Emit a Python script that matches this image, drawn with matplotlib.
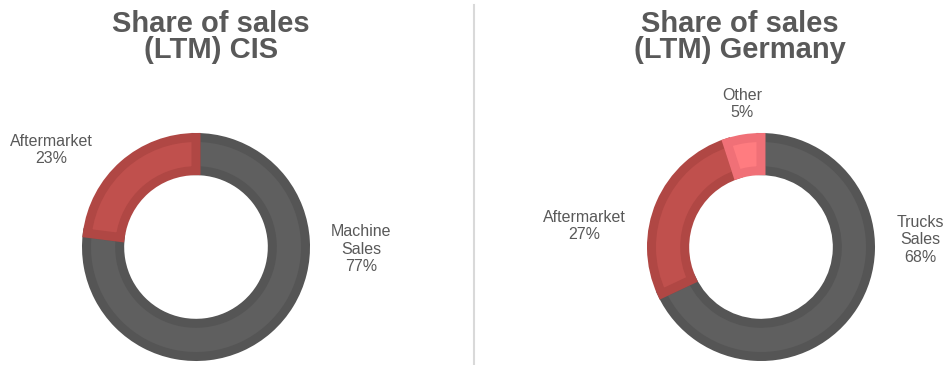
import matplotlib.pyplot as plt
from matplotlib.lines import Line2D

plt.rcParams['font.family'] = ['Liberation Sans', 'DejaVu Sans']

# data
cis_labels = ["Machine\nSales", "Aftermarket"]
cis_values = [77, 23]
ger_labels = ["Trucks\nSales", "Aftermarket", "Other"]
ger_values = [68, 27, 5]

face = {"Machine\nSales": "#5f5f5f", "Trucks\nSales": "#5f5f5f",
        "Aftermarket": "#c0504d", "Other": "#ff7c80"}
edge = {"Machine\nSales": "#555555", "Trucks\nSales": "#555555",
        "Aftermarket": "#b04744", "Other": "#f07077"}

txt = "#595959"
W, H = 947, 365
fig = plt.figure(figsize=(W / 100, H / 100), dpi=100)

R = 114          # outer radius in px
band = 9 / R     # darker inner border, as fraction of radius
ring = 0.37


def donut(cx, cy, labels, values, title, tx):
    ax = fig.add_axes([(cx - R) / W, (H - cy - R) / H, 2 * R / W, 2 * R / H])
    wedges, _ = ax.pie(values, startangle=90, counterclock=False,
                       radius=1 - band / 2,
                       colors=[face[l] for l in labels],
                       wedgeprops=dict(width=ring - band,
                                       linewidth=band * R * 72 / 100))
    for w, l in zip(wedges, labels):
        w.set_edgecolor(edge[l])
        w.set_joinstyle('miter')
    ax.set_xlim(-1, 1)
    ax.set_ylim(-1, 1)
    ax.set_aspect('equal')
    ax.axis('off')
    fig.text(tx / W, 1 - 10 / H, title, ha='center', va='top', fontsize=21,
             fontweight='bold', color=txt, linespacing=0.92)


donut(196, 247, cis_labels, cis_values, "Share of sales\n(LTM) CIS", 211)
donut(761, 247, ger_labels, ger_values, "Share of sales\n(LTM) Germany", 740)


# data labels
def lab(x, y, s):
    fig.text(x / W, 1 - y / H, s, ha='center', va='center', fontsize=11.5,
             color=txt, linespacing=1.2)


lab(361, 249, f"{cis_labels[0]}\n{cis_values[0]}%")
lab(51, 150, f"{cis_labels[1]}\n{cis_values[1]}%")
lab(920, 240, f"{ger_labels[0]}\n{ger_values[0]}%")
lab(584, 226, f"{ger_labels[1]}\n{ger_values[1]}%")
lab(742, 104, f"{ger_labels[2]}\n{ger_values[2]}%")

fig.add_artist(Line2D([474 / W, 474 / W], [0, 1 - 5 / H], color="#d9d9d9",
                      linewidth=1.5))

fig.savefig("out.png", dpi=100)
